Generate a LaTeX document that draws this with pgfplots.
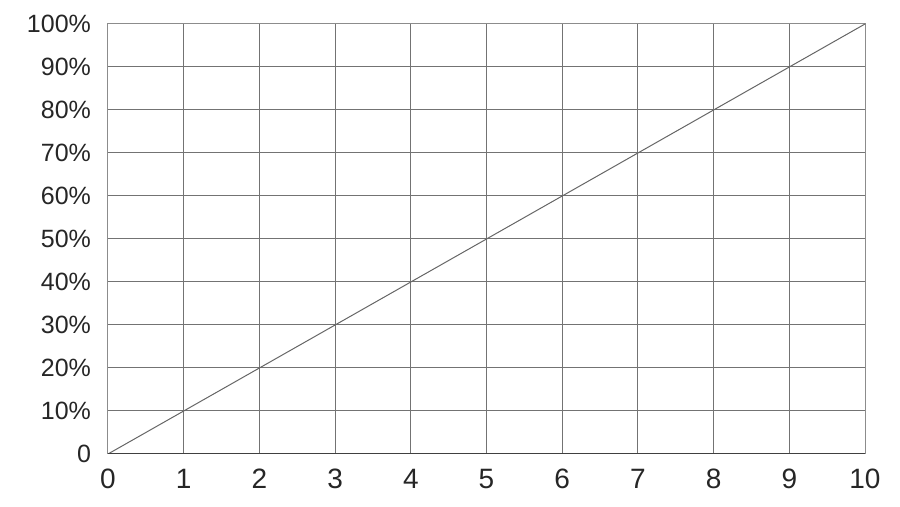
\documentclass[border=0pt]{standalone}
\usepackage{pgfplots}
\pgfplotsset{compat=1.18}
\usepackage{fontspec}
\setmainfont{Liberation Sans}
\begin{document}
\begin{tikzpicture}
	\begin{axis} [
		scale only axis,
		width=378.5pt,
		height=215pt,
		xmin=0, xmax=10,
		ymin=0, ymax=100,
		xtick={0,1,...,10},
		ytick={0,10,...,100},
		yticklabels={0,10\%,20\%,30\%,40\%,50\%,60\%,70\%,80\%,90\%,100\%},
		major tick length=0pt,
		grid=major,
		major grid style={black!55, line width=0.5pt},
		axis line style={black!45, line width=0.5pt},
		tick label style={text=black!85},
		/pgf/number format/assume math mode=true,
		xticklabel style={font=\fontsize{14}{16}\selectfont, yshift=-4pt},
		yticklabel style={font=\fontsize{12.5}{15}\selectfont, xshift=-5pt},
	]
		\addplot[black!60, line width=0.5pt] coordinates {(0,0) (10,100)};
		\draw[black!75, line width=0.7pt] (rel axis cs:0,0) -- (rel axis cs:1,0);
		\coordinate (sw) at (rel axis cs:0,0);
		\coordinate (ne) at (rel axis cs:1,1);
	\end{axis}
	\path (sw) ++(-54pt,-26.5pt) coordinate (a);
	\path (ne) ++(17.5pt,12pt) coordinate (b);
	\path (a) rectangle (b);
\end{tikzpicture}
\end{document}
